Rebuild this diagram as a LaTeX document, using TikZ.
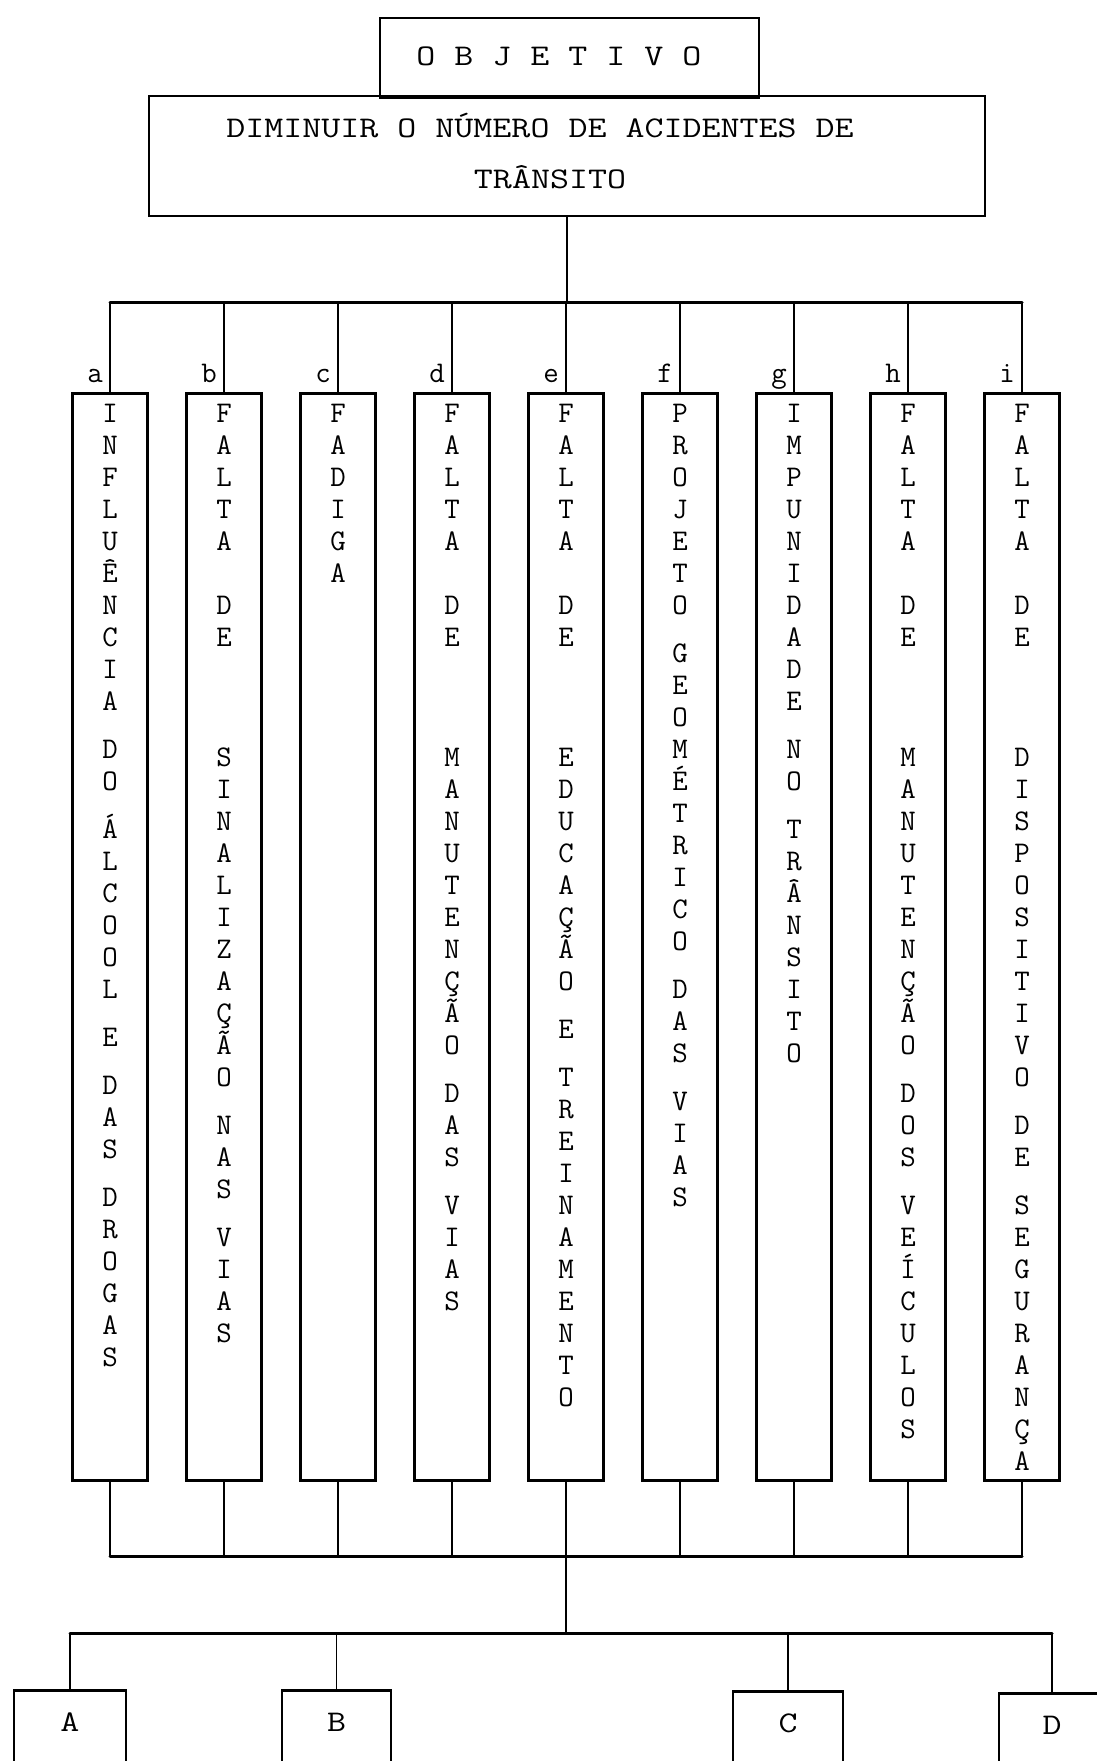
\documentclass[tikz,border=0pt]{standalone}
\usepackage{graphicx}

\newcommand{\wordgap}{\\[16pt]}
\newcommand{\faltagap}{\\[32pt]}
\newcommand{\degap}{\\[88pt]}
\newcommand{\tw}[1]{\scalebox{1.23}[1]{#1}}

\begin{document}
\begin{tikzpicture}[x=1pt, y=-1pt,
    box/.style={draw, line width=2.5pt, inner sep=0pt},
    col/.style={box, anchor=north, minimum width=75pt, minimum height=1087pt},
    coltext/.style={anchor=north, align=center, inner sep=0pt, yshift=-12pt,
      font=\fontsize{30}{32}\selectfont\ttfamily},
    tag/.style={anchor=base east, inner sep=0pt, xshift=-7pt, yshift=10pt,
      font=\fontsize{30}{30}\selectfont\ttfamily},
    big/.style={inner sep=0pt, font=\fontsize{30}{30}\selectfont\ttfamily},
    result/.style={box, anchor=north, text height=41pt, text depth=100pt,
      font=\fontsize{30}{30}\selectfont\ttfamily},
    link/.style={line width=1.8pt},
    bus/.style={line width=3pt, line cap=round}]

  \useasboundingbox (0,0) rectangle (1097,1761);
  \clip (0,0) rectangle (1097,1761);

  % objective
  \node[box, anchor=north, minimum width=379pt, minimum height=79pt] (obj) at (569.5,17) {};
  \node[big] (objtxt) at (559,56) {\tw{O B J E T I V O}};
  \node[box, minimum width=836pt, minimum height=120pt] (goal) at (567,156) {};
  \node[big, anchor=base] (goal1) at (540,137) {\tw{DIMINUIR O NÚMERO DE ACIDENTES DE}};
  \node[big, anchor=base] (goal2) at (550,188) {\tw{TRÂNSITO}};

  % causes
  \node[col] (a) at (110,392) {};
  \node[col] (b) at (224,392) {};
  \node[col] (c) at (338,392) {};
  \node[col] (d) at (452,392) {};
  \node[col] (e) at (566,392) {};
  \node[col] (f) at (680,392) {};
  \node[col] (g) at (794,392) {};
  \node[col] (h) at (908,392) {};
  \node[col] (i) at (1022,392) {};

  \node[tag] (la) at (a.north) {a};
  \node[tag] (lb) at (b.north) {b};
  \node[tag] (lc) at (c.north) {c};
  \node[tag] (ld) at (d.north) {d};
  \node[tag] (le) at (e.north) {e};
  \node[tag] (lf) at (f.north) {f};
  \node[tag] (lg) at (g.north) {g};
  \node[tag] (lh) at (h.north) {h};
  \node[tag] (li) at (i.north) {i};

  \node[coltext] (ta) at (a.north) {I\\N\\F\\L\\U\\Ê\\N\\C\\I\\A\wordgap D\\O\wordgap
    Á\\L\\C\\O\\O\\L\wordgap E\wordgap D\\A\\S\wordgap D\\R\\O\\G\\A\\S};
  \node[coltext] (tb) at (b.north) {F\\A\\L\\T\\A\faltagap D\\E\degap
    S\\I\\N\\A\\L\\I\\Z\\A\\Ç\\Ã\\O\wordgap N\\A\\S\wordgap V\\I\\A\\S};
  \node[coltext] (tc) at (c.north) {F\\A\\D\\I\\G\\A};
  \node[coltext] (td) at (d.north) {F\\A\\L\\T\\A\faltagap D\\E\degap
    M\\A\\N\\U\\T\\E\\N\\Ç\\Ã\\O\wordgap D\\A\\S\wordgap V\\I\\A\\S};
  \node[coltext] (te) at (e.north) {F\\A\\L\\T\\A\faltagap D\\E\degap
    E\\D\\U\\C\\A\\Ç\\Ã\\O\wordgap E\wordgap T\\R\\E\\I\\N\\A\\M\\E\\N\\T\\O};
  \node[coltext] (tf) at (f.north) {P\\R\\O\\J\\E\\T\\O\wordgap
    G\\E\\O\\M\\É\\T\\R\\I\\C\\O\wordgap D\\A\\S\wordgap V\\I\\A\\S};
  \node[coltext] (tg) at (g.north) {I\\M\\P\\U\\N\\I\\D\\A\\D\\E\wordgap N\\O\wordgap
    T\\R\\Â\\N\\S\\I\\T\\O};
  \node[coltext] (th) at (h.north) {F\\A\\L\\T\\A\faltagap D\\E\degap
    M\\A\\N\\U\\T\\E\\N\\Ç\\Ã\\O\wordgap D\\O\\S\wordgap V\\E\\Í\\C\\U\\L\\O\\S};
  \node[coltext] (ti) at (i.north) {F\\A\\L\\T\\A\faltagap D\\E\degap
    D\\I\\S\\P\\O\\S\\I\\T\\I\\V\\O\wordgap D\\E\wordgap S\\E\\G\\U\\R\\A\\N\\Ç\\A};

  % results
  \node[result, minimum width=112pt] (A) at (70,1689) {\tw{A}};
  \node[result, minimum width=109pt] (B) at (336.5,1689) {\tw{B}};
  \node[result, minimum width=110pt] (C) at (788,1690) {\tw{C}};
  \node[result, minimum width=106pt] (D) at (1052,1692) {\tw{D}};

  % upper tree
  \coordinate (fork) at (567,302);
  \draw[link] (goal.south) -- (fork);
  \draw[bus] (a.north |- fork) -- (i.north |- fork);
  \draw[link] (a.north |- fork) -- (a.north);
  \draw[link] (b.north |- fork) -- (b.north);
  \draw[link] (c.north |- fork) -- (c.north);
  \draw[link] (d.north |- fork) -- (d.north);
  \draw[link] (e.north |- fork) -- (e.north);
  \draw[link] (f.north |- fork) -- (f.north);
  \draw[link] (g.north |- fork) -- (g.north);
  \draw[link] (h.north |- fork) -- (h.north);
  \draw[link] (i.north |- fork) -- (i.north);

  % lower tree
  \coordinate (merge) at (566,1556);
  \coordinate (low) at (566,1633);
  \draw[bus] (a.south |- merge) -- (i.south |- merge);
  \draw[link] (a.south) -- (a.south |- merge);
  \draw[link] (b.south) -- (b.south |- merge);
  \draw[link] (c.south) -- (c.south |- merge);
  \draw[link] (d.south) -- (d.south |- merge);
  \draw[link] (e.south) -- (e.south |- merge);
  \draw[link] (f.south) -- (f.south |- merge);
  \draw[link] (g.south) -- (g.south |- merge);
  \draw[link] (h.south) -- (h.south |- merge);
  \draw[link] (i.south) -- (i.south |- merge);
  \draw[link] (merge) -- (low);
  \draw[bus] (A.north |- low) -- (D.north |- low);
  \draw[link] (A.north |- low) -- (A.north);
  \draw[link] (B.north |- low) -- (B.north);
  \draw[link] (C.north |- low) -- (C.north);
  \draw[link] (D.north |- low) -- (D.north);
\end{tikzpicture}
\end{document}
